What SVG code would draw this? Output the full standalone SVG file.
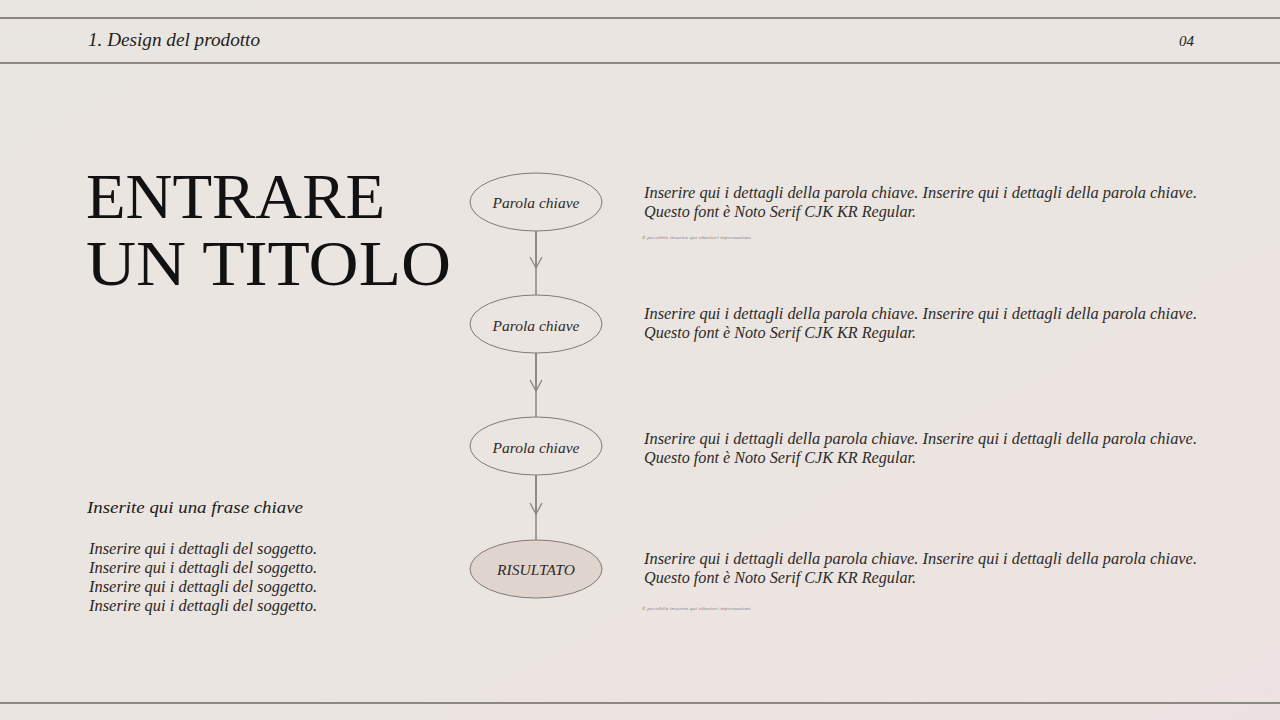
<svg xmlns="http://www.w3.org/2000/svg" width="1280" height="720" viewBox="0 0 1280 720">
<defs>
<linearGradient id="bg" x1="0" y1="0" x2="1" y2="1">
<stop offset="0" stop-color="#e9e5e0"/>
<stop offset="0.6" stop-color="#ebe5e1"/>
<stop offset="1" stop-color="#ede2e1"/>
</linearGradient>
<marker id="chev" markerWidth="14" markerHeight="14" refX="11" refY="7" orient="auto" markerUnits="userSpaceOnUse" viewBox="0 0 14 14">
<path d="M0,1 L11,7 L0,13" fill="none" stroke="#8a8580" stroke-width="1.3"/>
</marker>
<style>
.rule{stroke:#8c8782;stroke-width:2}
.it{font-family:"Liberation Serif","DejaVu Serif",serif;font-style:italic}
.hdr{font-size:18px;fill:#1e1e1e}
.node ellipse{fill:none;stroke:#7f7a75;stroke-width:1}
.node.res ellipse{fill:#e0d5ce}
.lab{font-size:15.5px;fill:#2e2a28;text-anchor:middle}
.desc{font-size:16px;fill:#2e2a28}
.tiny{font-size:5px;fill:#8a8480}
.conn line{stroke:#8a8580;stroke-width:1.5}
.title{font-family:"Liberation Serif","DejaVu Serif",serif;font-size:64px;fill:#111}
</style>
</defs>
<rect width="1280" height="720" fill="url(#bg)"/>
<g id="frame">
<line class="rule" x1="0" y1="18" x2="1280" y2="18"/>
<line class="rule" x1="0" y1="63" x2="1280" y2="63"/>
<line class="rule" x1="0" y1="703" x2="1280" y2="703"/>
<text class="it hdr" x="88" y="46" textLength="172" lengthAdjust="spacingAndGlyphs">1. Design del prodotto</text>
<text class="it" x="1194" y="46" font-size="15" fill="#1e1e1e" text-anchor="end">04</text>
</g>
<g id="title">
<text class="title" x="86" y="218" textLength="299" lengthAdjust="spacingAndGlyphs">ENTRARE</text>
<text class="title" x="86" y="285" textLength="365" lengthAdjust="spacingAndGlyphs">UN TITOLO</text>
</g>
<g id="subject">
<text class="it" x="87" y="513" font-size="17.5" fill="#1a1a1a" textLength="216" lengthAdjust="spacingAndGlyphs">Inserite qui una frase chiave</text>
<g class="it" font-size="16" fill="#2a2624">
<text x="89" y="554" textLength="228" lengthAdjust="spacingAndGlyphs">Inserire qui i dettagli del soggetto.</text>
<text x="89" y="573" textLength="228" lengthAdjust="spacingAndGlyphs">Inserire qui i dettagli del soggetto.</text>
<text x="89" y="592" textLength="228" lengthAdjust="spacingAndGlyphs">Inserire qui i dettagli del soggetto.</text>
<text x="89" y="611" textLength="228" lengthAdjust="spacingAndGlyphs">Inserire qui i dettagli del soggetto.</text>
</g>
</g>
<g id="connectors" class="conn">
<line x1="536" y1="231" x2="536" y2="295"/>
<line x1="536" y1="231" x2="536" y2="268" marker-end="url(#chev)"/>
<line x1="536" y1="353" x2="536" y2="417"/>
<line x1="536" y1="353" x2="536" y2="391" marker-end="url(#chev)"/>
<line x1="536" y1="475" x2="536" y2="540"/>
<line x1="536" y1="475" x2="536" y2="514" marker-end="url(#chev)"/>
</g>
<g id="node1" class="node">
<ellipse cx="536" cy="202" rx="66" ry="29"/>
<text class="it lab" x="536" y="208">Parola chiave</text>
</g>
<g id="node2" class="node">
<ellipse cx="536" cy="324" rx="66" ry="29"/>
<text class="it lab" x="536" y="331">Parola chiave</text>
</g>
<g id="node3" class="node">
<ellipse cx="536" cy="446" rx="66" ry="29"/>
<text class="it lab" x="536" y="453">Parola chiave</text>
</g>
<g id="node4" class="node res">
<ellipse cx="536" cy="569" rx="66" ry="29"/>
<text class="it lab" x="536" y="575">RISULTATO</text>
</g>
<g id="desc1">
<text class="it desc" x="644" y="198" textLength="553" lengthAdjust="spacingAndGlyphs">Inserire qui i dettagli della parola chiave. Inserire qui i dettagli della parola chiave.</text>
<text class="it desc" x="644" y="217" textLength="272" lengthAdjust="spacingAndGlyphs">Questo font è Noto Serif CJK KR Regular.</text>
<text class="it tiny" x="642" y="239" textLength="110" lengthAdjust="spacingAndGlyphs">È possibile inserire qui ulteriori informazioni.</text>
</g>
<g id="desc2">
<text class="it desc" x="644" y="319" textLength="553" lengthAdjust="spacingAndGlyphs">Inserire qui i dettagli della parola chiave. Inserire qui i dettagli della parola chiave.</text>
<text class="it desc" x="644" y="338" textLength="272" lengthAdjust="spacingAndGlyphs">Questo font è Noto Serif CJK KR Regular.</text>
</g>
<g id="desc3">
<text class="it desc" x="644" y="444" textLength="553" lengthAdjust="spacingAndGlyphs">Inserire qui i dettagli della parola chiave. Inserire qui i dettagli della parola chiave.</text>
<text class="it desc" x="644" y="463" textLength="272" lengthAdjust="spacingAndGlyphs">Questo font è Noto Serif CJK KR Regular.</text>
</g>
<g id="desc4">
<text class="it desc" x="644" y="564" textLength="553" lengthAdjust="spacingAndGlyphs">Inserire qui i dettagli della parola chiave. Inserire qui i dettagli della parola chiave.</text>
<text class="it desc" x="644" y="583" textLength="272" lengthAdjust="spacingAndGlyphs">Questo font è Noto Serif CJK KR Regular.</text>
<text class="it tiny" x="642" y="610" textLength="110" lengthAdjust="spacingAndGlyphs">È possibile inserire qui ulteriori informazioni.</text>
</g>
</svg>
